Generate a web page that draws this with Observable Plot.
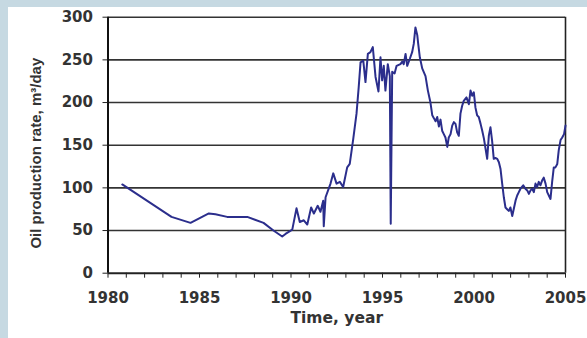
<!DOCTYPE html>
<html>
<head>
<meta charset="utf-8">
<script src="https://cdn.jsdelivr.net/npm/d3@7"></script>
<script src="https://cdn.jsdelivr.net/npm/@observablehq/plot@0.6"></script>
<style>
  html, body { margin: 0; padding: 0; background: #c6d9e2; width: 587px; height: 338px; overflow: hidden; }
  #panel { position: absolute; left: 8px; top: 7px; width: 579px; height: 331px; background: #ffffff; }
</style>
</head>
<body>
<div id="panel"></div>
<script>
// Oil production history of the field, 1980–2005 (decimal years, m³/day)
const years = [
  1980.78, 1983.47, 1984.51, 1985.51, 1985.87, 1986.51, 1987.61, 1988.50, 1989.04, 1989.52,
  1989.70, 1990.07, 1990.30, 1990.48, 1990.70, 1990.89, 1991.10, 1991.25, 1991.46, 1991.61,
  1991.76, 1991.79, 1991.89, 1992.16, 1992.31, 1992.49, 1992.67, 1992.85, 1993.07, 1993.21,
  1993.40, 1993.58, 1993.70, 1993.80, 1993.95, 1994.07, 1994.20, 1994.34, 1994.47, 1994.62,
  1994.78, 1994.89, 1994.98, 1995.07, 1995.16, 1995.29, 1995.40, 1995.45, 1995.53, 1995.66,
  1995.77, 1995.98, 1996.08, 1996.16, 1996.26, 1996.35, 1996.49, 1996.62, 1996.71, 1996.80,
  1996.90, 1996.95, 1997.04, 1997.17, 1997.35, 1997.48, 1997.62, 1997.72, 1997.80, 1997.90,
  1997.99, 1998.08, 1998.17, 1998.26, 1998.35, 1998.44, 1998.54, 1998.62, 1998.72, 1998.81,
  1998.90, 1998.99, 1999.08, 1999.17, 1999.26, 1999.35, 1999.44, 1999.59, 1999.72, 1999.81,
  1999.90, 1999.99, 2000.08, 2000.17, 2000.26, 2000.36, 2000.45, 2000.54, 2000.63, 2000.72,
  2000.81, 2000.90, 2000.99, 2001.08, 2001.17, 2001.27, 2001.36, 2001.45, 2001.54, 2001.63,
  2001.72, 2001.81, 2001.90, 2001.99, 2002.09, 2002.17, 2002.27, 2002.36, 2002.45, 2002.54,
  2002.69, 2002.81, 2002.91, 2003.00, 2003.09, 2003.18, 2003.27, 2003.36, 2003.45, 2003.54,
  2003.63, 2003.73, 2003.81, 2003.91, 2004.00, 2004.18, 2004.27, 2004.36, 2004.45, 2004.55,
  2004.63, 2004.73, 2004.82, 2004.92, 2005.00
];
const rates = [
  104, 66, 59, 70, 69, 66, 66, 59, 50, 43,
  46, 51, 76, 60, 62, 57, 77, 70, 79, 72,
  85, 55, 89, 105, 117, 105, 107, 101, 124, 128,
  157, 187, 218, 247, 249, 224, 257, 259, 265, 230,
  213, 253, 226, 243, 214, 245, 231, 58, 236, 234,
  243, 245, 248, 245, 257, 243, 251, 259, 269, 288,
  279, 269, 253, 240, 231, 214, 200, 185, 182, 178,
  183, 172, 180, 167, 163, 159, 148, 159, 163, 173,
  177, 175, 165, 161, 187, 196, 202, 206, 198, 214,
  208, 212, 194, 185, 183, 175, 167, 158, 146, 134,
  161, 171, 155, 134, 135, 134, 130, 122, 105, 89,
  77, 75, 73, 77, 67, 75, 85, 91, 95, 99,
  103, 99, 97, 93, 97, 99, 95, 105, 101, 107,
  103, 109, 112, 105, 95, 87, 107, 124, 124, 128,
  144, 156, 159, 163, 173
];

const yTicks = [0, 50, 100, 150, 200, 250, 300];
const xTicks = d3.range(1980, 2006);
const xLabelYears = [1980, 1985, 1990, 1995, 2000, 2005];
const xTitle = "Time, year";
const yTitle = "Oil production rate, m³/day";

const series = years.map((t, i) => ({ t, v: rates[i] }));

const ink = "#333333";
const tickFont = "'DejaVu Sans', sans-serif";

const chart = Plot.plot({
  width: 579,
  height: 331,
  marginLeft: 99.5,
  marginRight: 22,
  marginTop: 9.7,
  marginBottom: 65.3,
  x: { domain: [1980, 2005] },
  y: { domain: [0, 300] },
  style: { background: "transparent", fontFamily: tickFont, fontWeight: "bold", fontSize: "15px", color: ink },
  marks: [
    // horizontal grid
    Plot.ruleY(yTicks.filter(d => d > 0), { x1: 1980, x2: 2005, stroke: "#333", strokeWidth: 1.6 }),
    // right border
    Plot.ruleX([2005], { y1: 0, y2: 300, stroke: "#222", strokeWidth: 1.6 }),
    // production curve
    Plot.line(series, { x: "t", y: "v", stroke: "#2b2e8c", strokeWidth: 2, strokeLinejoin: "round" }),
    // axis lines
    Plot.ruleY([0], { x1: 1980, x2: 2005, stroke: "#222", strokeWidth: 2 }),
    Plot.ruleX([1980], { y1: 0, y2: 300, stroke: "#111", strokeWidth: 2 }),
    Plot.axisY({
      ticks: yTicks, tickSize: 5, tickPadding: 10, label: null,
      fontSize: 15, fontWeight: "bold", fontFamily: tickFont, stroke: "#222", fill: ink
    }),
    Plot.axisX({
      ticks: xTicks, tickSize: 5, tickPadding: 14, label: null,
      tickFormat: d => (xLabelYears.includes(d) ? String(d) : ""),
      fontSize: 15, fontWeight: "bold", fontFamily: tickFont, stroke: "#222", fill: ink
    }),
    // axis titles
    Plot.text([yTitle], {
      text: d => d, frameAnchor: "left", textAnchor: "middle", rotate: -90, dx: -71.5, dy: 8,
      fontSize: 15, fontWeight: "bold", fontFamily: "'Liberation Sans', Arial, sans-serif", fill: ink
    }),
    Plot.text([xTitle], {
      text: d => d, frameAnchor: "bottom", textAnchor: "middle", dy: 50,
      fontSize: 15.5, fontWeight: "bold", fontFamily: tickFont, fill: ink
    })
  ]
});

document.getElementById("panel").appendChild(chart);
</script>
</body>
</html>
